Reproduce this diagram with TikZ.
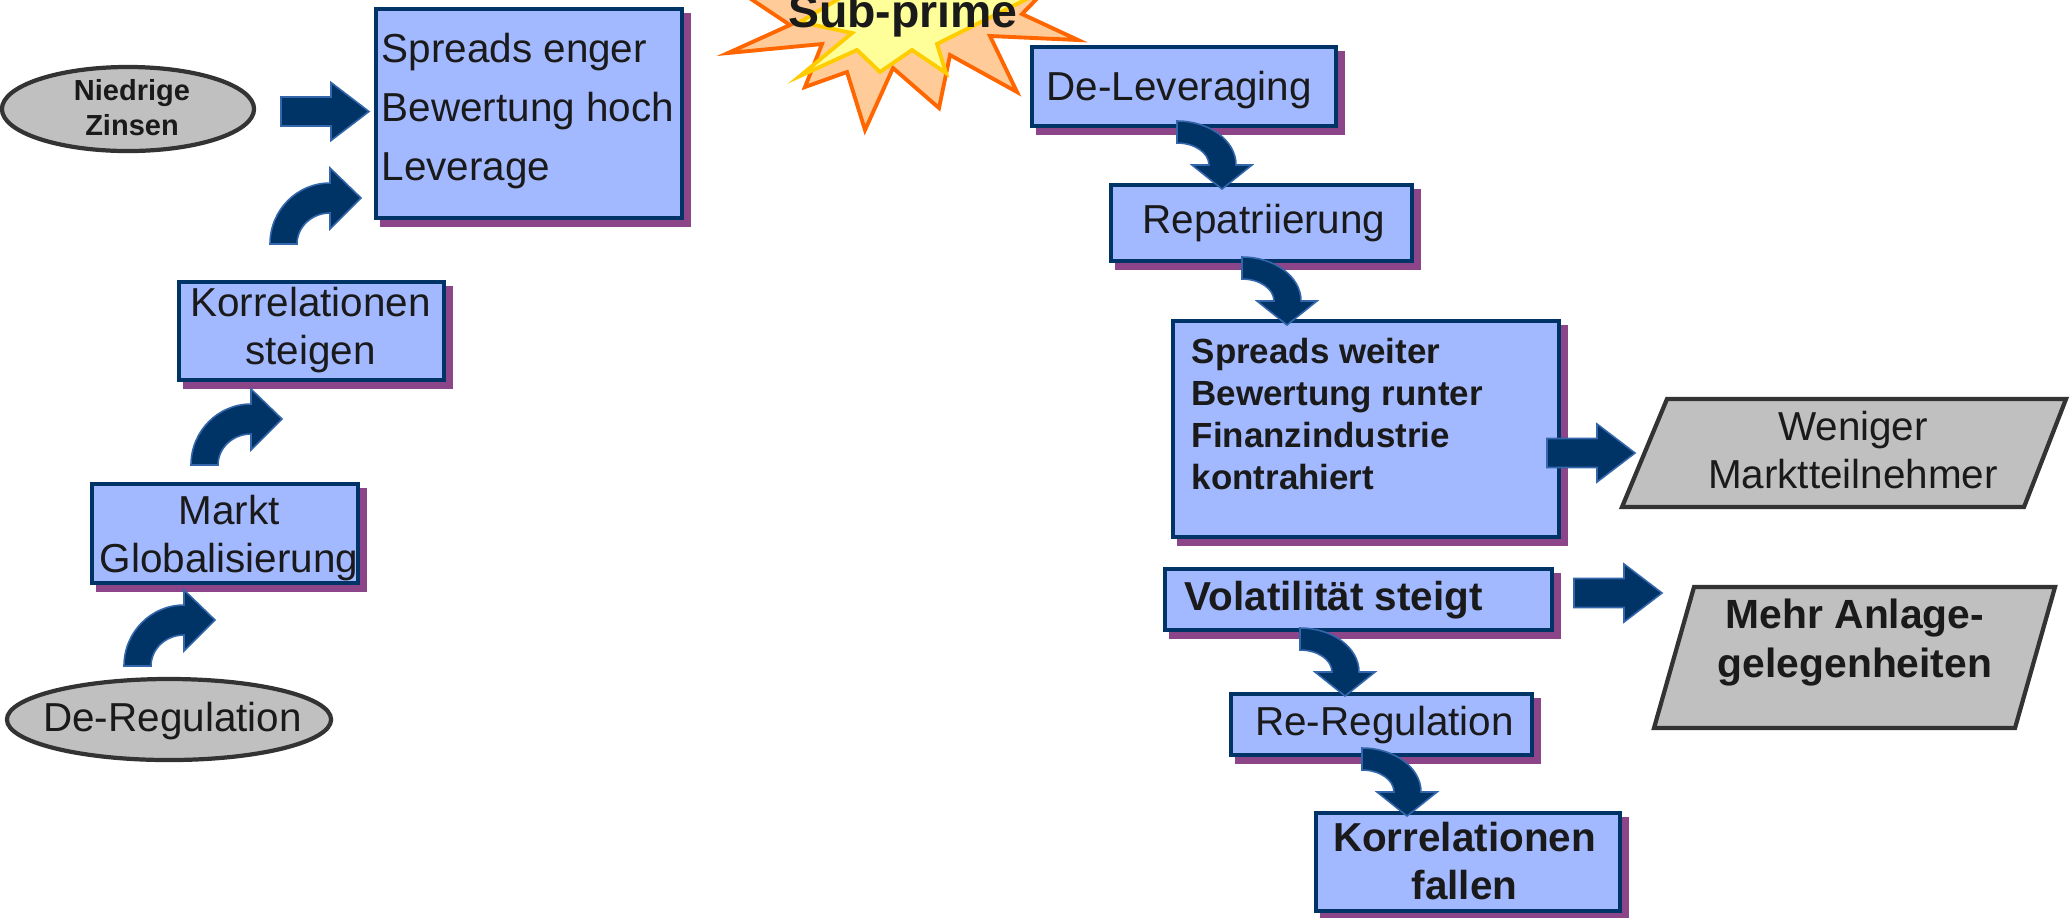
\documentclass[tikz,border=0pt]{standalone}
\usepackage{fontspec}
\setmainfont{Liberation Sans}
\usetikzlibrary{shapes.geometric,shadows}
\definecolor{boxblue}{RGB}{162,184,255}
\definecolor{navy}{RGB}{0,51,102}
\definecolor{shpurple}{RGB}{139,69,136}
\definecolor{graybox}{RGB}{192,192,192}
\definecolor{grayline}{RGB}{51,51,51}
\definecolor{arrowfill}{RGB}{0,51,102}
\definecolor{arrowline}{RGB}{51,102,170}
\definecolor{txt}{RGB}{26,26,26}
\definecolor{starorange}{RGB}{255,102,0}
\definecolor{starpeach}{RGB}{255,204,153}
\definecolor{staryellow}{RGB}{255,255,153}
\definecolor{stargold}{RGB}{255,204,0}
\tikzset{
  boxnode/.style={rectangle, draw=navy, fill=boxblue, line width=1.28pt, inner sep=0pt,
     drop shadow={shadow xshift=1.8pt, shadow yshift=-1.8pt, fill=shpurple, draw=shpurple, line width=1.28pt, opacity=1}},
  ellnode/.style={ellipse, draw=grayline, fill=graybox, line width=1.2pt, inner sep=0pt},
  para/.style={draw=grayline, fill=graybox, line width=1.2pt, line join=miter},
  blockarrow/.style={fill=arrowfill, draw=arrowline, line width=0.45pt, line join=miter},
  txtnode/.style={inner sep=0pt, text=txt},
  regfont/.style={font=\fontsize{11.5pt}{13.8pt}\selectfont},
}
\newcommand{\uparcarrow}[1]{%
  \draw[blockarrow, shift={#1}] (0,0) .. controls (0,-33.7) and (26.9,-61) .. (60,-61)
    -- (60,-76) -- (91,-46) -- (60,-15) -- (60,-31)
    .. controls (41.8,-31) and (27,-17.1) .. (27,0) -- cycle;}
\newcommand{\downarcarrow}[1]{%
  \draw[blockarrow, shift={#1}] (0,0) .. controls (32.6,0) and (59,19.7) .. (59,44)
    -- (75,44) -- (45,68) -- (15,44) -- (32,44)
    .. controls (32,31.8) and (17.7,22) .. (0,22) -- cycle;}
\newcommand{\rightblockarrow}[1]{%
  \draw[blockarrow, shift={#1}] (0,-14.5) -- (50,-14.5) -- (50,-29) -- (88,0)
    -- (50,29) -- (50,14.5) -- (0,14.5) -- cycle;}
\begin{document}
\begin{tikzpicture}[x=0.01cm, y=-0.01cm]
\clip (0,0) rectangle (2070,917);
\fill[white] (0,0) rectangle (2070,917);

% Sub-prime explosion
\draw[fill=starpeach, draw=starorange, line width=1.1pt, line join=miter]
  (728,53) -- (822,44) -- (805,87) -- (847,72) -- (865,130) -- (893,68) -- (939,108)
  -- (950,55) -- (1017,92) -- (990,36) -- (1078,40) -- (1022,14) -- (1060,-25)
  -- (990,-20) -- (960,-70) -- (900,-35) -- (840,-75) -- (810,-20) -- (730,-15)
  -- (790,25) -- cycle;
\draw[fill=staryellow, draw=stargold, line width=1.1pt, line join=miter]
  (800,76) -- (857,50) -- (880,72) -- (912,50) -- (946,73) -- (937,44) -- (1035,-5)
  -- (960,-15) -- (950,-60) -- (900,-30) -- (850,-60) -- (845,-5) -- (800,22)
  -- (852,33) -- cycle;
\node[txtnode, anchor=base, font=\bfseries\fontsize{13.2pt}{15.8pt}\selectfont] (subprime) at (903,27) {Sub-prime};

% left column
\node[ellnode, minimum width=2.52cm, minimum height=0.84cm] (zinsen) at (128,109) {};
\node[txtnode, anchor=north, align=center, font=\bfseries\fontsize{8.25pt}{9.96pt}\selectfont] (tzinsen) at (132,79.2) {Niedrige\\Zinsen};

\node[boxnode, minimum width=3.06cm, minimum height=2.09cm] (spreadsE) at (529,113.5) {};
\node[txtnode, anchor=north west, align=left, font=\fontsize{11.5pt}{16.8pt}\selectfont] (tspreadsE) at (381,32.6) {Spreads enger\\Bewertung hoch\\Leverage};

\node[boxnode, minimum width=2.65cm, minimum height=0.98cm] (korrS) at (311.5,331) {};
\node[txtnode, anchor=north, align=center, font=\fontsize{11.5pt}{13.8pt}\selectfont] (tkorrS) at (310.5,286) {Korrelationen\\steigen};

\node[boxnode, minimum width=2.66cm, minimum height=0.99cm] (markt) at (225,533.5) {};
\node[txtnode, anchor=north, align=center, font=\fontsize{11.5pt}{13.7pt}\selectfont] (tmarkt) at (229,494) {Markt\\Globalisierung};

\node[ellnode, minimum width=3.24cm, minimum height=0.81cm] (dereg) at (169,719.5) {};
\node[txtnode, anchor=base, regfont] (tdereg) at (172.5,731.7) {De-Regulation};

% right column
\node[boxnode, minimum width=3.04cm, minimum height=0.79cm] (delev) at (1184,86.5) {};
\node[txtnode, anchor=base west, regfont] (tdelev) at (1046,100) {De-Leveraging};

\node[boxnode, minimum width=3.01cm, minimum height=0.76cm] (repat) at (1261.5,223) {};
\node[txtnode, anchor=base west, regfont] (trepat) at (1142,233) {Repatriierung};

\node[boxnode, minimum width=3.86cm, minimum height=2.16cm] (spreadsW) at (1366,429) {};
\node[txtnode, anchor=north west, align=left, font=\bfseries\fontsize{9.93pt}{11.95pt}\selectfont] (tspreadsW) at (1191,337.6) {Spreads weiter\\Bewertung runter\\Finanzindustrie\\kontrahiert};

\node[boxnode, minimum width=3.87cm, minimum height=0.61cm] (volat) at (1358.5,599.5) {};
\node[txtnode, anchor=base west, font=\bfseries\fontsize{11.5pt}{13.8pt}\selectfont] (tvolat) at (1184,610) {Volatilität steigt};

\node[boxnode, minimum width=3.01cm, minimum height=0.61cm] (rereg) at (1381.5,724.5) {};
\node[txtnode, anchor=base west, regfont] (trereg) at (1254.5,735) {Re-Regulation};

\node[boxnode, minimum width=3.04cm, minimum height=0.98cm] (korrF) at (1468,862) {};
\node[txtnode, anchor=north, align=center, font=\bfseries\fontsize{11.5pt}{13.7pt}\selectfont] (tkorrF) at (1464.5,821) {Korrelationen\\fallen};

% parallelograms
\draw[para] (1667,399) -- (2066,399) -- (2024,507) -- (1622,507) -- cycle;
\node[txtnode, anchor=north, align=center, font=\fontsize{11.5pt}{13.9pt}\selectfont] (weniger) at (1853,410) {Weniger\\Marktteilnehmer};
\draw[para] (1694,587) -- (2055,587) -- (2015,728) -- (1654,728) -- cycle;
\node[txtnode, anchor=north, align=center, font=\bfseries\fontsize{11.6pt}{13.9pt}\selectfont] (mehr) at (1855,598.7) {Mehr Anlage-\\gelegenheiten};

% block arrows
\rightblockarrow{(281,111.5)}
\rightblockarrow{(1547,453)}
\rightblockarrow{(1574,593)}
\uparcarrow{(124,666)}
\uparcarrow{(191,465)}
\uparcarrow{(270,244)}
\downarcarrow{(1177,121)}
\downarcarrow{(1242,257)}
\downarcarrow{(1300,628)}
\downarcarrow{(1362,748)}
\end{tikzpicture}
\end{document}
